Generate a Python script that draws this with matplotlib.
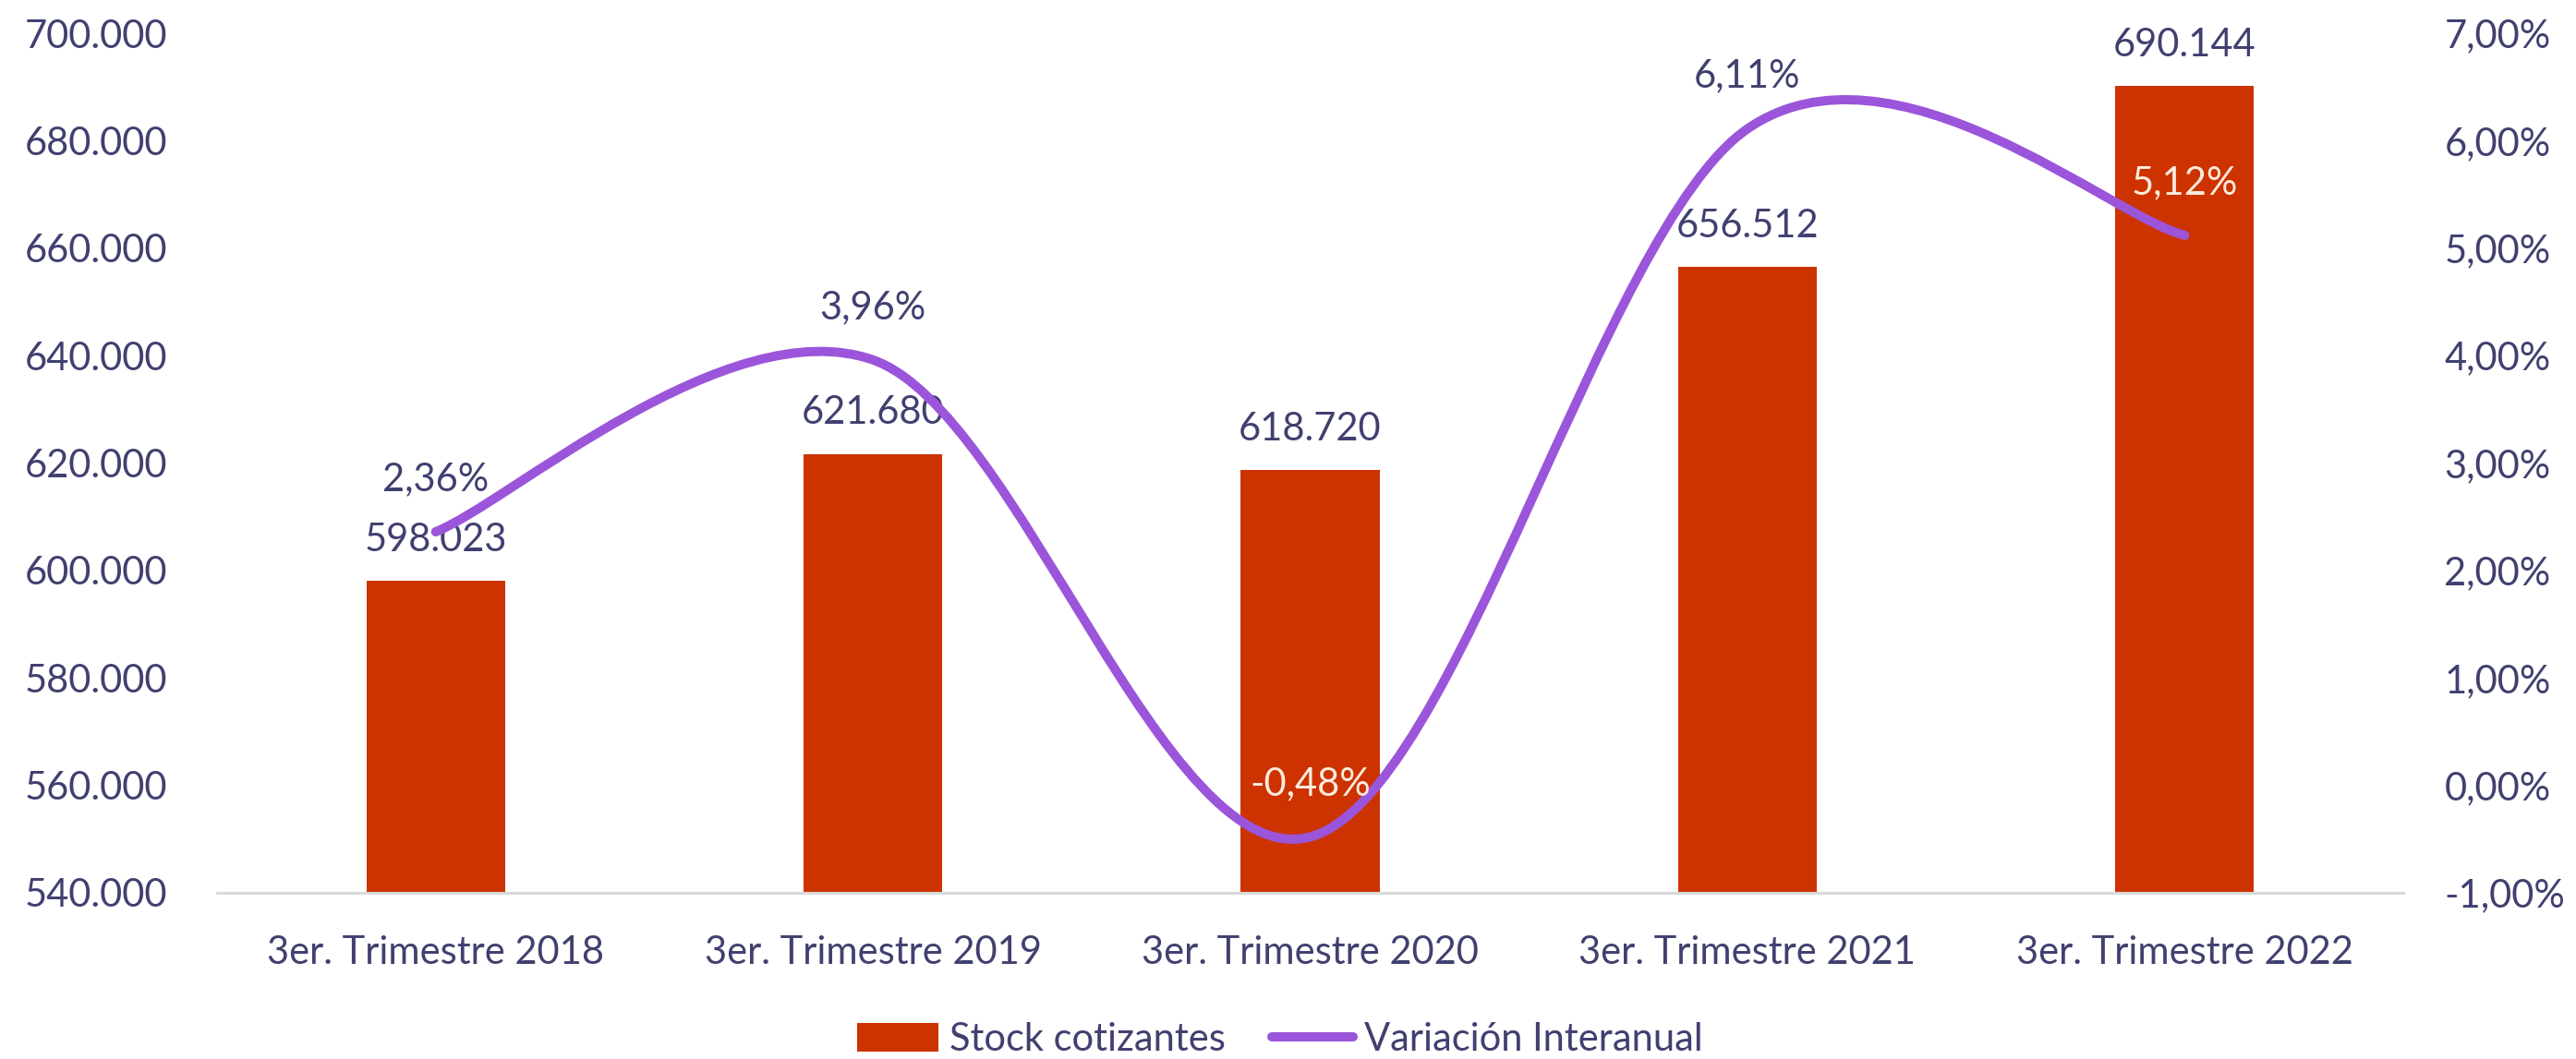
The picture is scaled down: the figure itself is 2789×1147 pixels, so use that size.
import matplotlib
matplotlib.use("Agg")
import matplotlib.pyplot as plt
from matplotlib.path import Path
from matplotlib.patches import PathPatch
from matplotlib.lines import Line2D
from matplotlib.patches import Patch
from matplotlib.ticker import FuncFormatter, MultipleLocator
import numpy as np

categories = ["3er. Trimestre 2018", "3er. Trimestre 2019", "3er. Trimestre 2020",
              "3er. Trimestre 2021", "3er. Trimestre 2022"]
stock = [598023, 621680, 618720, 656512, 690144]
variacion = [0.0236, 0.0396, -0.0048, 0.0611, 0.0512]
variacion_labels = ["2,36%", "3,96%", "-0,48%", "6,11%", "5,12%"]

BAR_COLOR = "#CC3300"
LINE_COLOR = "#9B55DA"
TEXT_COLOR = "#404070"
LIGHT_TEXT = "#FDEBDD"

plt.rcParams['font.family'] = ['Lato', 'DejaVu Sans']
FS = 30

fig = plt.figure(figsize=(27.89, 11.47), dpi=100)
ax = fig.add_axes([235/2789, 1-967/1147, (2602-235)/2789, (967-36)/1147])

x = np.arange(len(categories))
ax.bar(x, stock, width=0.317, color=BAR_COLOR, zorder=2)
ax.set_xlim(-0.5, len(categories)-0.5)
ax.set_ylim(540000, 700000)
ax.yaxis.set_major_locator(MultipleLocator(20000))
ax.yaxis.set_major_formatter(FuncFormatter(lambda v, p: f"{v:,.0f}".replace(",", ".")))
ax.set_xticks(x)
ax.set_xticklabels(categories)
ax.tick_params(axis='both', length=0, labelsize=FS, labelcolor=TEXT_COLOR)
ax.tick_params(axis='y', pad=39)
ax.tick_params(axis='x', pad=33)
for s in ['top', 'left', 'right']:
    ax.spines[s].set_visible(False)
ax.spines['bottom'].set_color('#D9D9D9')
ax.spines['bottom'].set_linewidth(2.2)
ax.spines['bottom'].set_zorder(3)

for xi, v in zip(x, stock):
    ax.annotate(f"{v:,.0f}".replace(",", "."), (xi, v), xytext=(0, 32),
                textcoords='offset points', ha='center', va='center',
                fontsize=FS, color=TEXT_COLOR, zorder=4)

ax2 = ax.twinx()
ax2.set_ylim(-0.01, 0.07)
ax2.yaxis.set_major_locator(MultipleLocator(0.01))
ax2.yaxis.set_major_formatter(FuncFormatter(lambda v, p: f"{v*100:.2f}%".replace(".", ",")))
ax2.tick_params(axis='y', length=0, labelsize=FS, labelcolor=TEXT_COLOR, pad=32)
for s in ['top', 'left', 'right', 'bottom']:
    ax2.spines[s].set_visible(False)

# Smoothed line (Catmull-Rom style Bezier, as in spreadsheet "smoothed line")
pts = np.column_stack([x, variacion]).astype(float)
ext = np.vstack([pts[0], pts, pts[-1]])
verts = [tuple(pts[0])]
codes = [Path.MOVETO]
for i in range(len(pts)-1):
    p0, p1, p2, p3 = ext[i], ext[i+1], ext[i+2], ext[i+3]
    c1 = p1 + (p2 - p0) / 6.0
    c2 = p2 - (p3 - p1) / 6.0
    verts += [tuple(c1), tuple(c2), tuple(p2)]
    codes += [Path.CURVE4]*3
path = Path(verts, codes)
ax2.add_patch(PathPatch(path, facecolor='none', edgecolor=LINE_COLOR, lw=7.2,
                        capstyle='round', zorder=3))

label_colors = [TEXT_COLOR, TEXT_COLOR, LIGHT_TEXT, TEXT_COLOR, LIGHT_TEXT]
for xi, v, lab, c in zip(x, variacion, variacion_labels, label_colors):
    ax2.annotate(lab, (xi, v), xytext=(0, 41), textcoords='offset points',
                 ha='center', va='center', fontsize=FS, color=c, zorder=5)

handles = [Patch(facecolor=BAR_COLOR, edgecolor='none'),
           Line2D([0], [0], color=LINE_COLOR, lw=7.2, solid_capstyle='round')]
leg = fig.legend(handles, ["Stock cotizantes", "Variación Interanual"],
                 loc='center', bbox_to_anchor=(0.497, 1-1126/1147), ncol=2,
                 frameon=False, fontsize=FS, handlelength=2.1, handleheight=0.75,
                 handletextpad=0.3, columnspacing=1.2)
for t in leg.get_texts():
    t.set_color(TEXT_COLOR)

fig.savefig("out.png", dpi=100, facecolor='white')
